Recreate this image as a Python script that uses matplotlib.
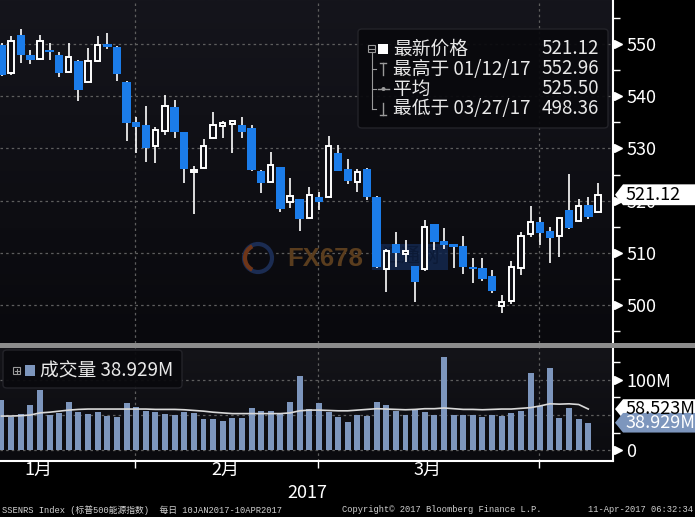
import numpy as np
import matplotlib
matplotlib.use("Agg")
import matplotlib.pyplot as plt
import matplotlib.transforms as mtransforms
from matplotlib.colors import LinearSegmentedColormap
from matplotlib.patches import Rectangle, FancyBboxPatch, Polygon, Ellipse, Arc
from matplotlib.lines import Line2D

plt.rcParams['font.family'] = ['Noto Sans CJK SC', 'DejaVu Sans']

# S&P 500 energy index, daily 10JAN2017 - 10APR2017
opens = [549.9, 544.4, 551.8, 547.9, 547.1, 548.8, 547.9, 544.6, 546.8, 542.7,
         546.7, 550.0, 549.4, 542.8, 535.1, 534.5, 530.5, 533.4, 538.0, 533.1,
         525.5, 526.3, 532.0, 534.3, 534.7, 534.5, 533.9, 525.7, 523.6, 526.4,
         519.7, 520.3, 516.6, 520.6, 520.7, 529.1, 526.1, 523.6, 526.1, 520.75,
         506.8, 511.6, 509.8, 507.4, 506.8, 515.5, 512.2, 511.6, 511.3, 507.1,
         507.0, 505.5, 499.8, 500.8, 507.0, 513.5, 515.9, 514.2, 513.3, 518.2,
         516.0, 519.2, 517.8]
highs = [550.3, 551.6, 552.96, 548.9, 551.8, 550.2, 548.5, 550.2, 547.0, 549.2,
         551.6, 552.1, 549.6, 542.9, 536.0, 538.2, 534.2, 540.3, 539.3, 533.2,
         526.6, 531.8, 537.0, 535.3, 535.5, 536.1, 534.5, 525.8, 529.4, 526.5,
         524.4, 520.4, 522.7, 521.7, 532.4, 530.7, 527.9, 526.1, 526.2, 520.8,
         510.8, 513.9, 512.4, 507.5, 516.3, 515.6, 514.7, 511.7, 513.2, 509.0,
         509.0, 506.7, 501.9, 508.4, 514.0, 519.0, 516.9, 515.0, 516.9, 525.2,
         520.4, 520.6, 523.3]
lows = [544.0, 544.1, 546.4, 546.2, 547.0, 546.9, 543.8, 544.5, 539.2, 542.5,
        546.6, 549.0, 543.0, 531.5, 529.1, 527.5, 527.3, 532.6, 532.0, 523.4,
        517.4, 526.2, 531.9, 532.0, 529.1, 532.0, 525.7, 521.5, 523.5, 517.9,
        518.5, 514.2, 516.4, 518.2, 520.6, 525.6, 523.2, 521.7, 520.1, 507.0,
        502.5, 507.3, 508.3, 500.6, 506.5, 510.5, 510.8, 507.0, 506.0, 504.2,
        504.6, 502.2, 498.36, 500.2, 505.7, 513.0, 511.5, 508.0, 509.2, 514.5,
        515.9, 516.4, 517.7]
closes = [544.2, 550.7, 548.0, 547.0, 550.6, 548.6, 544.5, 547.5, 541.2, 546.8,
          549.9, 549.5, 544.3, 534.8, 534.2, 530.1, 533.5, 538.2, 533.2, 526.0,
          525.7, 530.5, 534.5, 534.8, 535.3, 533.2, 525.9, 523.3, 526.8, 518.4,
          520.9, 516.4, 521.1, 519.7, 530.5, 525.7, 523.8, 525.4, 520.6, 507.2,
          510.4, 510.0, 510.3, 504.4, 515.0, 512.1, 511.5, 511.0, 507.3, 506.9,
          505.0, 502.7, 500.6, 507.2, 513.3, 515.8, 513.8, 512.9, 516.6, 514.8,
          519.0, 516.9, 521.12]

# volume in millions (last session has no bar yet) and its moving average
volumes = [71.4, 47.6, 51.4, 64.3, 85.7, 50.0, 52.4, 68.0, 53.8, 51.4,
           54.8, 49.0, 47.6, 66.7, 61.0, 56.2, 53.8, 51.4, 50.0, 54.8,
           52.4, 44.3, 44.3, 41.4, 46.2, 46.2, 60.5, 55.7, 55.7, 52.4,
           68.0, 105.7, 58.6, 67.6, 54.8, 47.6, 40.5, 50.0, 48.6, 69.0,
           64.3, 56.2, 50.0, 57.1, 54.8, 50.0, 133.3, 50.0, 50.0, 50.0,
           47.6, 50.0, 48.6, 52.4, 56.2, 110.5, 63.3, 117.6, 46.2, 60.5,
           44.3, 38.929]
vol_ma = [48.5, 48.5, 49.0, 50.0, 53.0, 54.0, 55.5, 57.0, 58.0, 58.5,
          58.5, 58.5, 58.5, 58.5, 58.5, 58.5, 58.0, 58.0, 58.0, 57.5,
          56.5, 55.5, 54.0, 53.0, 52.0, 52.0, 52.0, 52.0, 52.0, 52.0,
          53.0, 56.0, 57.0, 57.0, 56.5, 56.0, 56.0, 57.0, 58.0, 59.0,
          58.5, 58.0, 57.5, 58.0, 59.0, 59.0, 60.0, 59.0, 58.0, 58.0,
          57.5, 58.0, 58.5, 58.5, 59.5, 60.5, 63.0, 66.0, 65.5, 66.0,
          65.0, 58.523]

price_ticks = [500, 510, 520, 530, 540, 550]
price_minor = [495, 505, 515, 525, 535, 545, 555]
vol_ticks = [0, 50, 100]
vol_labels = ['0', '', '100M']
vol_minor = [25, 75, 125]
months = ['1月', '2月', '3月']

W, H = 695, 517
BLUE = '#1b7ce9'
VOLC = '#7d96bd'
GRIDC = '#5e5e5e'
TXT = '#e8e8e8'
CANDLE_BG = '#0f0f15'


def fx(px):
    return px / W


def fy(py):
    return 1 - py / H


def fline(xs, ys, **kw):
    fig.add_artist(Line2D([fx(v) for v in xs], [fy(v) for v in ys],
                          transform=fig.transFigure, **kw))


def panel_bg(a, top, bottom):
    grad = np.linspace(0, 1, 256).reshape(-1, 1)
    cmap = LinearSegmentedColormap.from_list('bg', [top, bottom])
    a.imshow(grad, cmap=cmap, aspect='auto', extent=(0, 1, 0, 1),
             transform=a.transAxes, zorder=0)


fig = plt.figure(figsize=(6.95, 5.17), dpi=100, facecolor='black')
ax = fig.add_axes([0, fy(343), 613 / W, 343 / H])
axv = fig.add_axes([0, fy(461), 613 / W, 113 / H])

panel_bg(ax, '#15151c', '#09090d')
panel_bg(axv, '#141419', '#0b0b0f')

x = np.arange(len(closes))
xv = np.arange(len(volumes))
grid_x = [13.88, 32.9, 55.87]

# ---- candles
o = np.array(opens); c = np.array(closes)
hi = np.array(highs); lo = np.array(lows)
up = c >= o
bot = np.minimum(o, c)
ht = np.maximum(np.abs(c - o), 0.35)
ax.vlines(x, lo, hi, color='white', lw=1.2, zorder=3)
ax.bar(x[~up], ht[~up], bottom=bot[~up], width=0.88, color=BLUE, zorder=4)
ax.bar(x[up], ht[up], bottom=bot[up], width=0.55, facecolor=CANDLE_BG,
       edgecolor='white', linewidth=1.4, zorder=4)

# ---- volume
axv.bar(xv, volumes, width=0.62, color=VOLC, zorder=3)
axv.plot(xv, vol_ma, color='#d9d9d9', lw=1.2, zorder=4)

for a in (ax, axv):
    a.set_xlim(-0.156, 63.57)
    a.set_facecolor('black')
    for s in ('top', 'left', 'bottom'):
        a.spines[s].set_visible(False)
    a.spines['right'].set_color('white')
    a.spines['right'].set_linewidth(1.5)
    a.yaxis.tick_right()
    a.set_xticks(grid_x)
    a.grid(True, color=GRIDC, lw=0.9, ls=(0, (2, 2.5)), zorder=1)
    a.tick_params(axis='y', which='major', length=0, pad=9.4,
                  labelcolor='white', labelsize=13)
    a.tick_params(axis='y', which='minor', length=5, width=1, color='white')

ax.set_ylim(492.67, 558.5)
ax.set_yticks(price_ticks)
ax.set_yticks(price_minor, minor=True)
ax.tick_params(axis='x', length=0, labelbottom=False)

axv.set_ylim(-15.7, 145.7)
axv.set_yticks(vol_ticks)
axv.set_yticklabels(vol_labels)
axv.set_yticks(vol_minor, minor=True)
axv.spines['bottom'].set_visible(True)
axv.spines['bottom'].set_color('white')
axv.spines['bottom'].set_linewidth(1.5)
axv.tick_params(axis='x', length=5, width=1, color='white', labelbottom=False)

# arrow heads in front of axis labels
tp = mtransforms.blended_transform_factory(ax.transAxes, ax.transData)
ax.plot([1.0082] * len(price_ticks), price_ticks, ls='none', marker='>',
        ms=5.5, color='white', transform=tp, clip_on=False)
tv = mtransforms.blended_transform_factory(axv.transAxes, axv.transData)
axv.plot([1.0082] * 2, [0, 100], ls='none', marker='>', ms=5.5,
         color='white', transform=tv, clip_on=False)


def tag(a, trans, val, half, text, fc, tc):
    pts = [(615 / 613, val), (623 / 613, val + half), (695 / 613, val + half),
           (695 / 613, val - half), (623 / 613, val - half)]
    a.add_patch(Polygon(pts, closed=True, fc=fc, ec='none', transform=trans,
                        clip_on=False, zorder=10))
    a.text(626 / 613, val, text, color=tc, fontsize=13, va='center',
           transform=trans, clip_on=False, zorder=11)


tag(ax, tp, closes[-1], 2.0, '521.12', 'white', 'black')
tag(axv, tv, vol_ma[-1], 14.0, '58.523M', 'white', 'black')
tag(axv, tv, volumes[-1], 14.0, '38.929M', VOLC, 'white')

# ---- watermark
ax.text(fx(287), fy(259), 'FX678', transform=fig.transFigure, fontsize=18.5,
        fontweight='bold', family='Liberation Sans', color='#5a3d1e',
        va='center', zorder=2)
ax.add_patch(Ellipse((fx(258), fy(258)), 28 / W, 28 / H, fill=False,
                     ec='#1b2c52', lw=3, transform=fig.transFigure, zorder=2))
ax.add_patch(Arc((fx(258), fy(258)), 26 / W, 26 / H, theta1=110, theta2=250,
                 color='#6e3518', lw=3, transform=fig.transFigure, zorder=2))
ax.add_patch(Rectangle((fx(372), fy(270)), 76 / W, 26 / H, fc='#142a52',
                       ec='none', alpha=0.8, transform=fig.transFigure, zorder=2))
ax.text(fx(410), fy(257), '汇通网', transform=fig.transFigure, fontsize=14,
        color='#0c1a36', ha='center', va='center', zorder=2)

# ---- price legend box
fig.add_artist(FancyBboxPatch((fx(358), fy(128)), 250 / W, 99 / H,
                              boxstyle='round,pad=0,rounding_size=0.006',
                              fc='#09090d', ec='#25252b', lw=1, alpha=0.93,
                              transform=fig.transFigure))
rows_y = [49, 69, 89, 109]
row_txt = ['最新价格', '最高于 01/12/17', '平均', '最低于 03/27/17']
row_val = ['521.12', '552.96', '525.50', '498.36']
for yy, t, v in zip(rows_y, row_txt, row_val):
    fig.text(fx(393), fy(yy), t, fontsize=13.5, color=TXT, va='center')
    fig.text(fx(599), fy(yy), v, fontsize=13.5, color=TXT, va='center',
             ha='right')
ic = '#9a9a9a'
fig.add_artist(Rectangle((fx(368), fy(52)), 7 / W, 7 / H, fill=False, ec=ic,
                         lw=0.8, transform=fig.transFigure))
fline([369.5, 373.5], [48.5, 48.5], color=ic, lw=0.8)
fig.add_artist(Rectangle((fx(378), fy(54)), 10 / W, 10 / H, fc='white',
                         ec='none', transform=fig.transFigure))
fline([371.5, 371.5], [52, 109], color=ic, lw=0.8)
for yy in rows_y[1:]:
    fline([371.5, 376], [yy, yy], color=ic, lw=0.8)
fline([380, 386], [63, 63], color=ic, lw=1)
fline([383, 383], [63, 75], color=ic, lw=1)
fline([378, 389], [89, 89], color=ic, lw=1)
fig.add_artist(Ellipse((fx(383.5), fy(89)), 4 / W, 4 / H, fc=ic, ec='none',
                       transform=fig.transFigure))
fline([383, 383], [103, 115], color=ic, lw=1)
fline([380, 386], [115, 115], color=ic, lw=1)

# ---- volume legend box
fig.add_artist(FancyBboxPatch((fx(3), fy(388)), 179 / W, 38 / H,
                              boxstyle='round,pad=0,rounding_size=0.006',
                              fc='#09090d', ec='#25252b', lw=1, alpha=0.93,
                              transform=fig.transFigure))
fig.add_artist(Rectangle((fx(13), fy(374)), 7 / W, 7 / H, fill=False, ec=ic,
                         lw=0.8, transform=fig.transFigure))
fline([14.5, 18.5], [370.5, 370.5], color=ic, lw=0.8)
fline([16.5, 16.5], [368.5, 372.5], color=ic, lw=0.8)
fig.add_artist(Rectangle((fx(25), fy(376)), 10 / W, 11 / H, fc=VOLC,
                         ec='none', transform=fig.transFigure))
fig.text(fx(40), fy(371), '成交量 38.929M', fontsize=13.5, color=TXT,
         va='center')

# ---- panel separator
fig.add_artist(Rectangle((0, fy(347.5)), 1, 4.5 / H, fc='#8c8c8c', ec='none',
                         transform=fig.transFigure))

# ---- date axis
for lab, px in zip(months, [38, 225, 427]):
    fig.text(fx(px), fy(470), lab, fontsize=13, color='white', ha='center',
             va='center')
fig.text(fx(307), fy(493), '2017', fontsize=13, color='white', ha='center',
         va='center')

# ---- footer
foot = dict(fontsize=6.3, color='#d0d0d0', va='center',
            family=['Liberation Mono', 'Noto Sans CJK SC'])
fig.text(fx(2), fy(510), 'SSENRS Index (标普500能源指数)  每日 10JAN2017-10APR2017', **foot)
fig.text(fx(342), fy(510), 'Copyright© 2017 Bloomberg Finance L.P.', **foot)
fig.text(fx(693), fy(510), '11-Apr-2017 06:32:34', ha='right', **foot)

fig.savefig('out.png', dpi=100, facecolor='black')
